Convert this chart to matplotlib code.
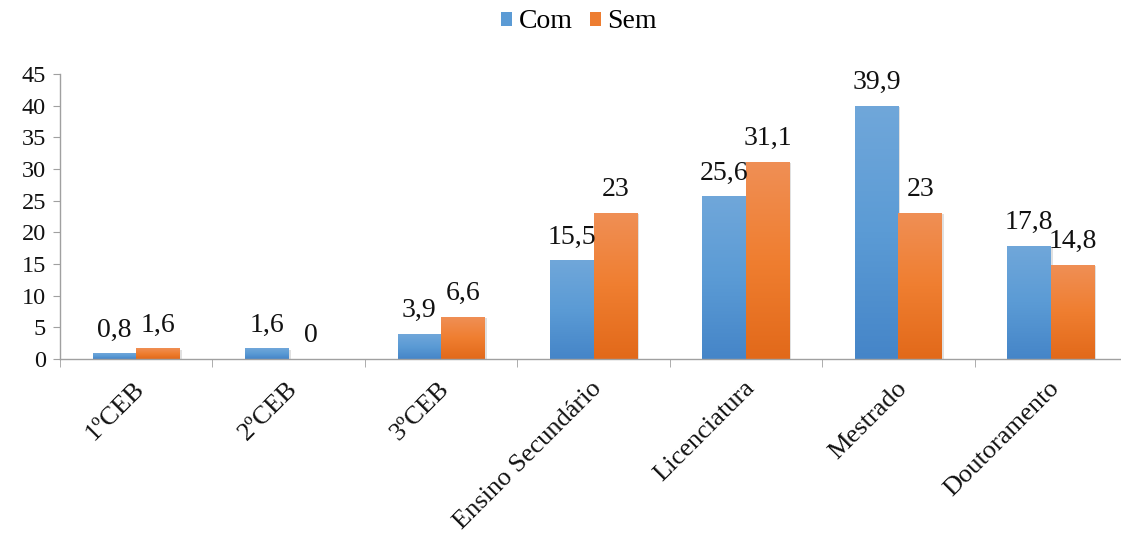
import numpy as np
import matplotlib
matplotlib.use("Agg")
import matplotlib.pyplot as plt
from matplotlib.colors import LinearSegmentedColormap
from matplotlib.patches import Patch, Rectangle
from matplotlib.transforms import ScaledTranslation

categories = ["1ºCEB", "2ºCEB", "3ºCEB", "Ensino Secundário",
              "Licenciatura", "Mestrado", "Doutoramento"]
com = [0.8, 1.6, 3.9, 15.5, 25.6, 39.9, 17.8]
sem = [1.6, 0, 6.6, 23, 31.1, 23, 14.8]
series_names = ["Com", "Sem"]

value_labels_com = ["0,8", "1,6", "3,9", "15,5", "25,6", "39,9", "17,8"]
value_labels_sem = ["1,6", "0", "6,6", "23", "31,1", "23", "14,8"]

plt.rcParams["font.family"] = ["Liberation Serif", "DejaVu Serif"]

W, H = 1121, 538
fig = plt.figure(figsize=(W / 100, H / 100), dpi=100)
ax = fig.add_axes([60 / W, (H - 359) / H, 1067 / W, 285 / H])

blue_cmap = LinearSegmentedColormap.from_list(
    "blue_grad", ["#4585c8", "#5b9bd5", "#70a7da"])
orange_cmap = LinearSegmentedColormap.from_list(
    "orange_grad", ["#e2691a", "#ef7e30", "#f08f55"])

n = len(categories)
x = np.arange(n)
bw = 1 / 3.5  # bar width with 150% gap between groups
grad = np.linspace(0, 1, 256).reshape(-1, 1)

def gradient_bars(xs, heights, cmap):
    for xc, h in zip(xs, heights):
        if h <= 0:
            continue
        x0, x1 = xc - bw / 2, xc + bw / 2
        # soft drop shadow
        shadow = Rectangle((x0, 0), bw, h, facecolor="#000000", alpha=0.12,
                           edgecolor="none", zorder=1.5,
                           transform=ax.transData + ScaledTranslation(
                               2 / 100, -1 / 100, fig.dpi_scale_trans))
        ax.add_patch(shadow)
        ax.imshow(grad, extent=[x0, x1, 0, h], origin="lower", aspect="auto",
                  cmap=cmap, zorder=2, interpolation="bilinear")

gradient_bars(x - bw / 2, com, blue_cmap)
gradient_bars(x + bw / 2, sem, orange_cmap)

for xs, vals, labs in ((x - bw / 2, com, value_labels_com),
                       (x + bw / 2, sem, value_labels_sem)):
    for xc, v, lab in zip(xs, vals, labs):
        ax.annotate(lab, (xc, v), xytext=(0, 12.5), textcoords="offset points",
                    ha="center", va="baseline", fontsize=20, color="#111111")

ax.set_xlim(-0.5, n - 0.5)
ax.set_ylim(0, 45)
ax.set_yticks(np.arange(0, 46, 5))
ax.tick_params(axis="y", labelsize=17.5, length=5, color="#a0a0a0",
               labelcolor="#111111", pad=5)

ax.set_xticks(x)
ax.set_xticklabels(categories, rotation=45, ha="right", va="center",
                   rotation_mode="anchor", fontsize=19, color="#111111")
ax.tick_params(axis="x", which="major", length=0, pad=0)
ax.set_xticks(np.arange(-0.5, n, 1), minor=True)
ax.tick_params(axis="x", which="minor", length=6, color="#a0a0a0")
offset = ScaledTranslation(5 / 100, -26 / 100, fig.dpi_scale_trans)
for lbl in ax.get_xticklabels():
    lbl.set_transform(lbl.get_transform() + offset)

for side in ("top", "right"):
    ax.spines[side].set_visible(False)
for side in ("left", "bottom"):
    ax.spines[side].set_color("#a0a0a0")
    ax.spines[side].set_linewidth(1.0)

handles = [Patch(facecolor="#5b9bd5", edgecolor="none"),
           Patch(facecolor="#ed7d31", edgecolor="none")]
fig.legend(handles, series_names, loc="center",
           bbox_to_anchor=(579 / W, 1 - 22 / H), ncol=2, frameon=False,
           fontsize=20, handlelength=0.4, handleheight=0.4,
           handletextpad=0.25, columnspacing=0.6)

fig.savefig("out.png", dpi=100)
